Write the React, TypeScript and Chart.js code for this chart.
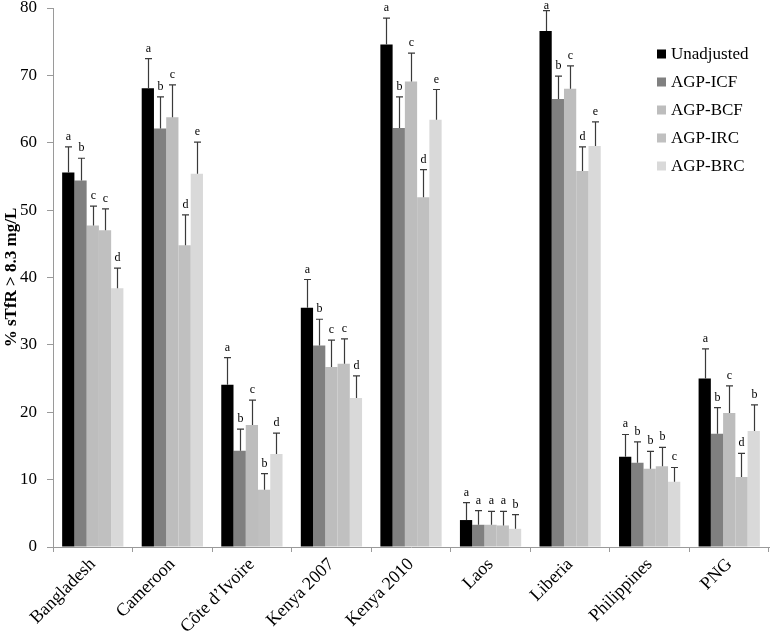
import React, { useEffect, useRef } from "react";
import { Chart, registerables } from "chart.js";

Chart.register(...registerables);

const countries = ["Bangladesh", "Cameroon", "Côte d’Ivoire", "Kenya 2007", "Kenya 2010", "Laos", "Liberia", "Philippines", "PNG"];
const seriesNames = ["Unadjusted", "AGP-ICF", "AGP-BCF", "AGP-IRC", "AGP-BRC"];

const unadjusted = [55.6, 68.1, 24.1, 35.5, 74.6, 4.0, 76.6, 13.4, 25.0];
const agpIcf = [54.4, 62.1, 14.3, 29.9, 62.2, 3.3, 66.5, 12.5, 16.8];
const agpBcf = [47.7, 63.8, 18.1, 26.7, 69.1, 3.3, 68.0, 11.6, 19.9];
const agpIrc = [47.0, 44.8, 8.5, 27.2, 51.9, 3.2, 55.8, 12.0, 10.4];
const agpBrc = [38.4, 55.4, 13.8, 22.1, 63.4, 2.7, 59.5, 9.7, 17.2];

const unadjustedUpper = [59.4, 72.5, 28.1, 39.7, 78.5, 6.6, 79.6, 16.7, 29.4];
const agpIcfUpper = [57.7, 66.8, 17.5, 33.8, 66.8, 5.4, 69.9, 15.6, 20.7];
const agpBcfUpper = [50.6, 68.6, 21.8, 30.7, 73.3, 5.3, 71.4, 14.2, 23.9];
const agpIrcUpper = [50.2, 49.3, 10.9, 30.9, 56.0, 5.3, 59.4, 14.8, 13.9];
const agpBrcUpper = [41.4, 60.1, 16.9, 25.4, 67.9, 4.8, 63.1, 11.8, 21.1];

const unadjustedLetters = ["a", "a", "a", "a", "a", "a", "a", "a", "a"];
const agpIcfLetters = ["b", "b", "b", "b", "b", "a", "b", "b", "b"];
const agpBcfLetters = ["c", "c", "c", "c", "c", "a", "c", "b", "c"];
const agpIrcLetters = ["c", "d", "b", "c", "d", "a", "d", "b", "d"];
const agpBrcLetters = ["d", "e", "d", "d", "e", "b", "e", "c", "b"];

const seriesColors = ["#000000", "#808080", "#bdbdbd", "#c0c0c0", "#d9d9d9"];

const SERIF = "'Times New Roman', 'Liberation Serif', serif";

export default function App() {
  const canvasRef = useRef<HTMLCanvasElement | null>(null);

  useEffect(() => {
    const canvas = canvasRef.current;
    if (!canvas) return;
    const values = [unadjusted, agpIcf, agpBcf, agpIrc, agpBrc];
    const uppers = [unadjustedUpper, agpIcfUpper, agpBcfUpper, agpIrcUpper, agpBrcUpper];
    const letters = [unadjustedLetters, agpIcfLetters, agpBcfLetters, agpIrcLetters, agpBrcLetters];

    const errorPlugin = {
      id: "errorBars",
      afterDatasetsDraw(chart: any) {
        const ctx = chart.ctx;
        const y = chart.scales.y;
        ctx.save();
        chart.data.datasets.forEach((ds: any, di: number) => {
          const meta = chart.getDatasetMeta(di);
          meta.data.forEach((bar: any, i: number) => {
            const x = Math.round(bar.x) + 0.5;
            const yTop = y.getPixelForValue(uppers[di][i]);
            ctx.strokeStyle = "#3a3a3a";
            ctx.lineWidth = 1.2;
            ctx.beginPath();
            ctx.moveTo(x, bar.y);
            ctx.lineTo(x, yTop);
            ctx.moveTo(x - 3.5, yTop);
            ctx.lineTo(x + 3.5, yTop);
            ctx.stroke();
            ctx.fillStyle = "#000";
            ctx.font = `12px ${SERIF}`;
            ctx.textAlign = "center";
            ctx.textBaseline = "alphabetic";
            ctx.fillText(letters[di][i], x, Math.max(yTop - 7, 9));
          });
        });
        ctx.restore();
      },
    };

    const legendPlugin = {
      id: "customLegend",
      afterDraw(chart: any) {
        const ctx = chart.ctx;
        ctx.save();
        ctx.font = `17px ${SERIF}`;
        ctx.textBaseline = "middle";
        ctx.textAlign = "left";
        seriesNames.forEach((name, i) => {
          const cy = 54 + i * 28;
          ctx.fillStyle = seriesColors[i];
          ctx.fillRect(657, cy - 4.5, 9, 9);
          ctx.fillStyle = "#000";
          ctx.fillText(name, 671, cy + 1);
        });
        ctx.restore();
      },
    };

    const chart = new Chart(canvas, {
      type: "bar",
      data: {
        labels: countries,
        datasets: seriesNames.map((name, i) => ({
          label: name,
          data: values[i],
          backgroundColor: seriesColors[i],
          borderWidth: 0,
          barPercentage: 1,
          categoryPercentage: 0.77,
        })),
      },
      options: {
        responsive: false,
        animation: false,
        devicePixelRatio: 1,
        layout: { padding: { top: 8, right: 2, left: 0, bottom: 0 } },
        plugins: {
          legend: { display: false },
          tooltip: { enabled: false },
        },
        scales: {
          x: {
            grid: {
              display: true,
              drawOnChartArea: false,
              drawTicks: true,
              tickLength: 5,
              color: "#9a9a9a",
              offset: true,
            },
            border: { color: "#9a9a9a", width: 1 },
            ticks: {
              color: "#000",
              font: { family: SERIF, size: 18 },
              maxRotation: 45,
              minRotation: 45,
              autoSkip: false,
              labelOffset: 0,
              padding: 2,
            },
            afterFit(scale: any) {
              scale.height = 88;
              scale.paddingLeft = 0;
              scale.paddingRight = 0;
            },
          },
          y: {
            min: 0,
            max: 80,
            ticks: {
              stepSize: 10,
              color: "#000",
              font: { family: SERIF, size: 17 },
              padding: 10,
            },
            grid: {
              display: true,
              drawOnChartArea: false,
              drawTicks: true,
              tickLength: 6,
              color: "#9a9a9a",
            },
            border: { color: "#9a9a9a", width: 1 },
            title: {
              display: true,
              text: "% sTfR > 8.3 mg/L",
              color: "#000",
              font: { family: SERIF, size: 17, weight: "bold" },
              padding: { top: 1, bottom: 0 },
            },
            afterFit(scale: any) {
              scale.width = 53;
              scale.paddingTop = 0;
              scale.paddingBottom = 0;
            },
          },
        },
      },
      plugins: [errorPlugin, legendPlugin],
    });
    return () => chart.destroy();
  }, []);

  return (
    <div style={{ position: "fixed", left: 0, top: 0, width: 771, height: 635, overflow: "hidden", background: "#fff" }}>
      <canvas ref={canvasRef} width={771} height={635} style={{ display: "block" }} />
    </div>
  );
}
